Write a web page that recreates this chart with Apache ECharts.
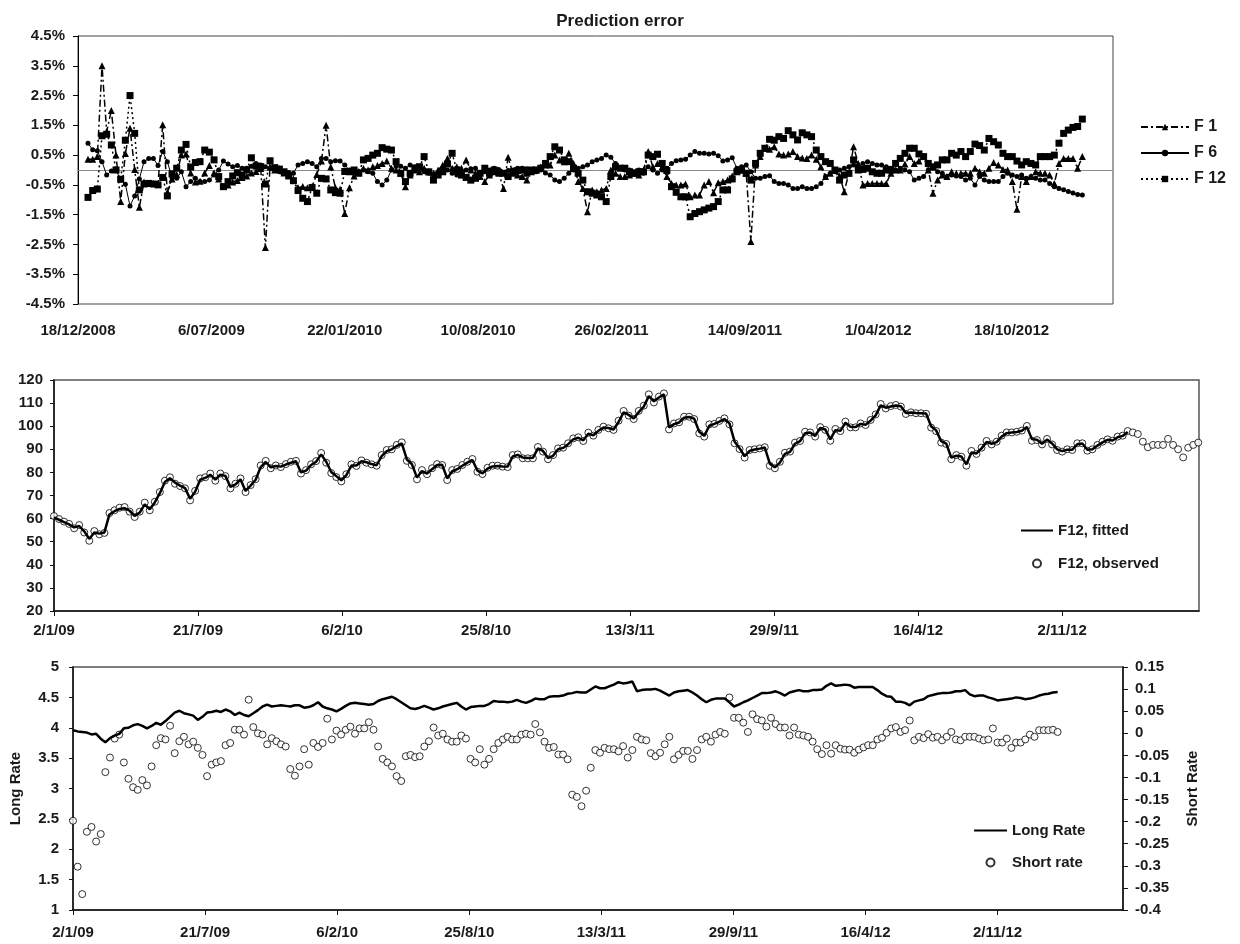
<!DOCTYPE html>
<html>
<head>
<meta charset="utf-8">
<script src="https://cdn.jsdelivr.net/npm/echarts@6/dist/echarts.min.js"></script>
<style>html,body{margin:0;padding:0;background:#fff}#c{width:1240px;height:944px}</style>
</head>
<body>
<div id="c"></div>
<script>
// ---- Data (weekly observations starting 2/1/2009) ----
const firstObsDate = [2009, 0, 2];      // 2/1/09
const errAxisStart = [2008, 11, 18];    // 18/12/2008 (left edge of error panel)
const weekDays = 7;
const tickDays = [0, 200, 400, 600, 800, 1000, 1200, 1400];
const errTickLabels = [-4.5, -3.5, -2.5, -1.5, -0.5, 0.5, 1.5, 2.5, 3.5, 4.5];

// Prediction error (%)
const f1 = [
0.36,0.36,0.45,3.50,1.29,2.00,0.50,-1.06,0.55,1.40,
0.02,-1.25,-0.40,-0.45,-0.45,-0.45,1.52,-0.75,-0.30,-0.15,
0.50,0.54,-0.10,-0.40,-0.38,-0.10,0.15,-0.10,-0.30,-0.55,
-0.50,-0.40,-0.35,-0.25,-0.20,-0.10,-0.05,0.05,-2.60,0.10,
0.00,0.05,-0.10,-0.15,-0.30,-0.60,-0.55,-0.60,-0.55,-0.15,
0.30,1.50,0.10,-0.60,-0.65,-1.46,-0.60,-0.20,-0.05,0.05,
0.00,0.11,0.15,0.22,0.30,0.06,0.00,-0.11,-0.56,-0.17,
0.00,-0.06,0.06,-0.06,-0.11,0.00,0.17,0.39,0.06,0.11,
0.06,0.34,0.00,-0.11,-0.22,-0.39,-0.17,-0.06,-0.11,-0.62,
0.43,-0.11,-0.17,-0.22,-0.34,-0.06,0.00,0.11,0.17,0.17,
0.50,0.34,0.28,0.56,0.22,-0.39,-0.62,-1.40,-0.67,-0.73,
-0.67,-0.62,0.00,-0.11,-0.22,-0.22,-0.17,-0.11,-0.17,0.00,
0.62,0.11,0.22,0.11,-0.22,-0.45,-0.50,-0.50,-0.47,-0.90,
-0.84,-0.84,-0.50,-0.39,-0.76,-0.43,-0.39,-0.34,-0.20,-0.02,
0.00,-0.11,-2.40,0.17,0.45,0.73,0.70,0.78,0.54,0.50,
0.54,0.62,0.45,0.40,0.39,0.50,0.36,0.11,-0.22,-0.11,
0.00,-0.20,-0.73,-0.10,0.78,0.22,-0.50,-0.45,-0.45,-0.45,
-0.45,-0.45,-0.11,0.00,0.00,0.20,0.45,0.22,0.30,0.45,
0.00,-0.78,-0.34,-0.17,-0.22,-0.06,-0.11,-0.11,-0.11,-0.11,
0.06,-0.06,-0.11,0.06,0.25,0.17,0.02,0.00,-0.39,-1.32,
-0.22,-0.39,-0.22,-0.06,-0.11,-0.11,-0.17,-0.45,0.22,0.39,
0.39,0.39,0.06,0.45];

const f6 = [
0.90,0.68,0.65,0.28,-0.17,-0.03,0.00,-0.34,-0.48,-1.21,
-0.87,-0.30,0.28,0.39,0.39,0.15,0.62,0.28,-0.26,-0.28,
-0.06,-0.56,-0.39,-0.28,-0.39,-0.39,-0.34,-0.17,0.00,0.30,
0.20,0.11,0.15,0.06,0.06,0.13,0.22,0.17,0.11,0.06,
0.00,-0.06,-0.08,-0.08,-0.11,0.17,0.22,0.28,0.22,0.11,
0.39,0.39,0.28,0.31,0.30,0.17,0.00,-0.11,-0.06,0.00,
-0.06,-0.11,-0.39,-0.50,-0.34,0.00,0.13,0.13,0.06,0.17,
0.11,0.06,-0.06,-0.11,-0.17,-0.11,0.06,0.00,-0.11,-0.17,
-0.11,0.00,0.04,0.06,-0.11,-0.06,0.00,0.06,0.02,-0.11,
-0.02,0.00,0.06,0.06,0.04,0.00,-0.06,0.00,-0.10,-0.17,
-0.34,-0.39,-0.28,-0.11,0.00,0.06,0.11,0.17,0.28,0.34,
0.39,0.50,0.43,0.22,0.06,0.00,0.00,-0.06,0.00,-0.11,
0.11,0.00,-0.11,0.00,0.06,0.22,0.31,0.34,0.36,0.50,
0.62,0.56,0.56,0.54,0.56,0.48,0.30,0.34,0.41,0.06,
0.11,0.17,-0.06,-0.28,-0.28,-0.22,-0.19,-0.39,-0.45,-0.45,
-0.50,-0.62,-0.62,-0.56,-0.62,-0.62,-0.56,-0.45,-0.22,-0.11,
-0.06,0.00,0.06,0.11,0.17,0.11,0.22,0.28,0.22,0.17,
0.17,0.11,0.06,0.00,0.06,0.00,-0.06,-0.34,-0.28,-0.22,
0.00,0.06,-0.06,-0.11,-0.22,-0.17,-0.20,-0.22,-0.34,-0.28,
-0.50,-0.22,-0.34,-0.39,-0.39,-0.39,-0.22,-0.11,-0.17,-0.22,
-0.17,-0.28,-0.22,-0.28,-0.34,-0.34,-0.45,-0.56,-0.62,-0.66,
-0.72,-0.77,-0.82,-0.84];

const f12 = [
-0.92,-0.69,-0.64,1.15,1.20,0.84,0.00,-0.31,1.00,2.50,
1.23,-0.67,-0.47,-0.45,-0.47,-0.50,-0.25,-0.87,-0.13,0.06,
0.67,0.86,0.10,0.25,0.28,0.67,0.60,0.34,-0.22,-0.56,
-0.39,-0.20,-0.09,-0.17,0.00,0.41,0.13,0.11,-0.47,0.31,
0.08,0.03,-0.06,-0.20,-0.36,-0.69,-0.95,-1.06,-0.59,-0.78,
-0.28,-0.30,-0.67,-0.76,-0.78,-0.05,-0.06,0.00,-0.11,0.34,
0.39,0.50,0.56,0.75,0.70,0.67,0.28,-0.11,-0.39,-0.11,
0.06,0.11,0.45,-0.06,-0.34,-0.17,-0.06,0.20,0.56,0.00,
-0.17,-0.25,-0.34,-0.28,-0.11,0.06,-0.11,0.00,-0.08,-0.11,
-0.22,-0.06,-0.02,0.00,-0.11,0.00,0.00,0.06,0.22,0.45,
0.78,0.67,0.34,0.28,0.06,-0.11,-0.34,-0.73,-0.78,-0.84,
-0.90,-1.06,-0.22,0.11,0.06,0.06,-0.06,-0.11,-0.06,-0.06,
0.50,0.45,0.53,0.22,-0.02,-0.56,-0.75,-0.90,-0.90,-1.57,
-1.46,-1.40,-1.34,-1.28,-1.23,-1.06,-0.67,-0.67,-0.30,-0.06,
0.00,-0.11,-0.34,0.22,0.56,0.73,1.03,1.00,1.12,1.06,
1.32,1.18,1.01,1.25,1.18,1.12,0.67,0.45,0.28,0.22,
0.00,-0.34,-0.17,-0.11,0.34,0.00,0.02,0.06,-0.06,-0.11,
-0.11,0.00,0.00,0.22,0.39,0.56,0.73,0.73,0.54,0.45,
0.22,0.11,0.17,0.34,0.34,0.56,0.50,0.62,0.45,0.62,
0.87,0.82,0.67,1.06,0.95,0.84,0.56,0.45,0.45,0.30,
0.17,0.28,0.22,0.17,0.45,0.45,0.45,0.50,0.90,1.23,
1.34,1.43,1.46,1.71];

// F12 level: observed and fitted
const f12Observed = [
61.1,59.8,58.7,57.7,55.8,57.2,54.0,50.4,54.6,53.2,
53.8,62.4,63.6,64.7,65.0,63.0,60.7,63.0,66.9,63.6,
67.3,71.5,76.4,77.9,75.1,74.1,73.1,67.9,72.0,77.4,
77.9,79.5,76.4,79.5,78.4,73.1,75.1,77.4,71.5,74.5,
77.1,83.0,85.0,81.8,83.0,82.3,83.6,84.6,85.0,79.5,
81.0,83.5,84.9,88.4,84.2,79.7,78.0,76.1,79.2,83.5,
82.8,85.2,84.2,83.5,82.9,87.5,89.7,90.0,91.9,93.0,
85.0,83.2,77.0,81.0,79.2,81.8,83.6,83.2,76.7,81.0,
81.5,83.2,84.6,85.8,80.3,79.3,82.0,82.9,82.9,82.5,
82.3,87.5,87.8,86.1,86.1,86.1,91.0,89.0,85.7,87.5,
90.4,90.7,92.6,94.7,95.2,93.6,97.2,95.9,98.4,99.8,
99.1,98.4,102.4,106.6,104.6,103.1,106.6,108.9,113.8,110.3,
112.8,114.2,98.6,101.2,101.7,104.1,104.1,103.1,96.9,95.5,
100.8,101.0,102.3,103.4,100.8,92.6,90.1,86.4,89.7,90.0,
90.4,90.9,82.9,81.8,84.6,88.5,89.0,92.9,93.6,97.6,
97.3,95.5,99.6,98.4,93.7,98.8,97.9,102.0,99.5,99.5,
101.2,100.5,102.7,105.1,109.6,107.7,108.7,109.2,108.5,105.3,
106.0,105.6,105.6,105.4,99.4,97.9,92.9,92.3,85.7,87.5,
86.8,82.9,89.3,88.0,90.7,93.6,92.1,93.3,95.9,97.3,
97.3,97.6,98.1,100.1,93.7,94.0,92.1,94.5,92.1,89.7,
89.0,90.0,89.7,92.6,92.6,89.4,90.0,91.9,93.3,94.3,
93.7,95.5,95.9,97.9,97.3,96.6,93.3,90.9,91.9,91.9,
91.9,94.5,91.9,90.0,86.5,90.7,91.9,92.9];

const f12Fitted = [
60.5,59.5,58.5,57.5,56.2,56.8,54.5,51.2,54.0,53.5,
54.0,61.8,63.2,64.2,64.5,63.4,61.2,62.6,66.2,64.0,
67.0,71.0,75.8,77.5,75.6,74.3,73.2,68.6,71.6,76.8,
77.6,79.0,76.9,79.0,78.5,73.7,74.8,77.0,72.0,74.3,
76.8,82.3,84.5,82.2,82.8,82.5,83.4,84.2,84.8,80.0,
80.8,83.2,84.6,87.8,84.6,80.2,78.4,76.6,78.8,83.0,
83.0,84.8,84.4,83.6,83.1,87.0,89.2,90.0,91.4,92.6,
85.6,83.6,77.8,80.6,79.5,81.4,83.2,83.3,77.4,80.5,
81.4,82.9,84.2,85.4,80.8,79.6,81.6,82.6,82.8,82.6,
82.5,86.9,87.6,86.4,86.2,86.3,90.4,89.3,86.2,87.2,
90.0,90.6,92.2,94.3,95.0,93.9,96.7,96.1,98.0,99.4,
99.2,98.6,101.8,106.0,104.9,103.4,106.1,108.5,113.0,110.8,
112.4,113.8,99.5,100.9,101.6,103.7,104.0,103.3,97.6,95.8,
100.2,101.0,102.0,103.1,101.2,93.4,90.5,87.0,89.3,89.9,
90.3,90.8,83.8,82.2,84.2,88.0,88.9,92.4,93.5,97.0,
97.3,95.8,99.2,98.6,94.3,98.3,98.0,101.5,99.8,99.6,
101.0,100.6,102.4,104.7,109.0,108.0,108.5,109.0,108.6,105.7,
105.9,105.7,105.6,105.5,100.0,98.2,93.5,92.5,86.4,87.2,
86.9,83.5,88.6,88.2,90.4,93.2,92.4,93.1,95.5,97.0,
97.3,97.5,98.0,99.7,94.4,94.1,92.4,94.2,92.5,90.0,
89.2,89.8,89.8,92.2,92.5,89.8,90.0,91.6,93.0,94.1,
93.8,95.2,95.8,97.5];

// Rates
const longRate = [
3.96,3.94,3.93,3.92,3.89,3.90,3.82,3.76,3.83,3.87,
3.90,3.99,4.00,4.04,4.06,4.03,3.99,4.03,4.08,4.05,
4.11,4.18,4.25,4.28,4.24,4.22,4.20,4.13,4.18,4.25,
4.26,4.28,4.26,4.30,4.27,4.21,4.25,4.21,4.19,4.24,
4.29,4.35,4.38,4.35,4.36,4.37,4.36,4.35,4.37,4.37,
4.33,4.34,4.37,4.42,4.35,4.32,4.30,4.27,4.31,4.36,
4.40,4.41,4.40,4.39,4.38,4.39,4.44,4.47,4.49,4.51,
4.47,4.42,4.37,4.32,4.31,4.33,4.36,4.33,4.30,4.32,
4.35,4.37,4.39,4.41,4.35,4.30,4.34,4.35,4.36,4.36,
4.39,4.44,4.43,4.43,4.42,4.43,4.46,4.43,4.41,4.44,
4.48,4.47,4.47,4.51,4.52,4.52,4.53,4.56,4.57,4.59,
4.58,4.58,4.63,4.68,4.65,4.65,4.68,4.71,4.75,4.73,
4.74,4.76,4.60,4.62,4.63,4.63,4.64,4.61,4.57,4.53,
4.58,4.60,4.61,4.62,4.58,4.53,4.47,4.42,4.46,4.48,
4.48,4.48,4.42,4.35,4.38,4.42,4.45,4.49,4.53,4.57,
4.57,4.58,4.60,4.57,4.53,4.58,4.60,4.62,4.60,4.60,
4.62,4.62,4.63,4.69,4.73,4.69,4.70,4.71,4.70,4.66,
4.67,4.67,4.67,4.67,4.62,4.56,4.52,4.51,4.43,4.43,
4.41,4.37,4.43,4.45,4.47,4.52,4.54,4.56,4.57,4.57,
4.58,4.60,4.60,4.62,4.55,4.52,4.53,4.53,4.50,4.48,
4.45,4.46,4.47,4.48,4.50,4.49,4.47,4.48,4.50,4.53,
4.55,4.56,4.58,4.59];

const shortRate = [
-0.198,-0.302,-0.364,-0.223,-0.212,-0.245,-0.228,-0.088,-0.055,-0.012,
-0.003,-0.066,-0.103,-0.122,-0.128,-0.106,-0.118,-0.075,-0.027,-0.011,
-0.014,0.017,-0.045,-0.018,-0.008,-0.025,-0.019,-0.033,-0.049,-0.097,
-0.071,-0.066,-0.063,-0.027,-0.022,0.008,0.008,-0.003,0.076,0.014,
0.000,-0.003,-0.025,-0.011,-0.018,-0.025,-0.030,-0.081,-0.096,-0.075,
-0.036,-0.071,-0.022,-0.031,-0.022,0.033,-0.014,0.006,-0.003,0.008,
0.015,-0.001,0.011,0.011,0.025,0.008,-0.030,-0.058,-0.066,-0.075,
-0.097,-0.108,-0.052,-0.049,-0.054,-0.052,-0.030,-0.018,0.013,-0.005,
-0.001,-0.014,-0.019,-0.019,-0.005,-0.012,-0.058,-0.066,-0.036,-0.071,
-0.058,-0.036,-0.022,-0.014,-0.008,-0.014,-0.014,-0.003,-0.001,-0.003,
0.021,0.002,-0.019,-0.033,-0.031,-0.048,-0.048,-0.059,-0.139,-0.144,
-0.165,-0.130,-0.078,-0.038,-0.044,-0.033,-0.036,-0.036,-0.041,-0.029,
-0.055,-0.038,-0.008,-0.014,-0.016,-0.045,-0.052,-0.044,-0.025,-0.008,
-0.059,-0.049,-0.040,-0.040,-0.058,-0.038,-0.014,-0.008,-0.019,-0.003,
0.003,-0.001,0.081,0.035,0.035,0.024,0.003,0.043,0.032,0.029,
0.015,0.035,0.021,0.013,0.013,-0.005,0.013,-0.003,-0.005,-0.008,
-0.019,-0.036,-0.047,-0.027,-0.046,-0.027,-0.035,-0.037,-0.037,-0.044,
-0.037,-0.032,-0.027,-0.027,-0.014,-0.010,0.001,0.011,0.014,0.003,
0.007,0.029,-0.016,-0.008,-0.011,-0.002,-0.010,-0.008,-0.016,-0.008,
0.003,-0.014,-0.016,-0.008,-0.008,-0.008,-0.012,-0.016,-0.014,0.011,
-0.021,-0.021,-0.012,-0.033,-0.021,-0.021,-0.014,-0.003,-0.008,0.007,
0.007,0.007,0.008,0.003];

// ---- helpers ----
const DAY = 86400000;
const base2 = Date.UTC(firstObsDate[0], firstObsDate[1], firstObsDate[2]);
const base1 = Date.UTC(errAxisStart[0], errAxisStart[1], errAxisStart[2]);
const errOffset = Math.round((base2 - base1) / DAY);
const pad2 = n => (n < 10 ? '0' : '') + n;
const fmtLong = v => { const d = new Date(base1 + v * DAY); return d.getUTCDate() + '/' + pad2(d.getUTCMonth() + 1) + '/' + d.getUTCFullYear(); };
const fmtShort = v => { const d = new Date(base2 + v * DAY); return d.getUTCDate() + '/' + (d.getUTCMonth() + 1) + '/' + String(d.getUTCFullYear()).slice(2); };
const toErr = arr => arr.map((v, i) => [errOffset + i * weekDays, v]);
const toObs = arr => arr.map((v, i) => [i * weekDays, v]);

const FONT = 'Liberation Sans, Arial, sans-serif';
const INK = '#1a1a1a';
const lab = (extra) => Object.assign({ fontFamily: FONT, fontWeight: 'bold', fontSize: 15, color: INK }, extra || {});
const noMarker = { opacity: 0 };

const chart = echarts.init(document.getElementById('c'), null, { renderer: 'canvas' });

const option = {
  animation: false,
  backgroundColor: '#fff',
  title: {
    text: 'Prediction error', left: 'center', top: 8,
    textStyle: { fontFamily: FONT, fontWeight: 'bold', fontSize: 17, color: INK }
  },
  grid: [
    { left: 78, top: 36, width: 1035, height: 268, show: true, borderColor: '#444', borderWidth: 1, containLabel: false },
    { left: 54, top: 380, width: 1145, height: 231, show: true, borderColor: '#555', borderWidth: 1.5, containLabel: false },
    { left: 67, top: 667, width: 1056, height: 243, show: true, borderColor: '#555', borderWidth: 1.5, containLabel: false }
  ],
  legend: [
    {
      data: ['F 1', 'F 6', 'F 12'], orient: 'vertical', left: 1135, top: 114,
      itemWidth: 48, itemHeight: 8, itemGap: 10, textStyle: lab({ fontSize: 16 }), selectedMode: false
    },
    {
      data: [{ name: 'F12, fitted', itemStyle: noMarker }, 'F12, observed'], orient: 'vertical', left: 1015, top: 518,
      itemWidth: 32, itemHeight: 8, itemGap: 18, textStyle: lab(), selectedMode: false
    },
    {
      data: [{ name: 'Long Rate', itemStyle: noMarker }, 'Short rate'], orient: 'vertical', left: 968, top: 818,
      itemWidth: 33, itemHeight: 8, itemGap: 17, textStyle: lab(), selectedMode: false
    }
  ],
  xAxis: [
    {
      gridIndex: 0, type: 'value', min: 0, max: 1552,
      axisLine: { show: false, onZero: false }, axisTick: { show: false }, splitLine: { show: false },
      axisLabel: Object.assign(lab({ margin: 19 }), { customValues: tickDays, formatter: fmtLong })
    },
    {
      gridIndex: 1, type: 'value', min: 0, max: 1590,
      axisLine: { show: true, onZero: false, lineStyle: { color: '#111', width: 1.5 } },
      axisTick: { show: true, inside: false, length: 5, customValues: tickDays, lineStyle: { color: '#111' } },
      splitLine: { show: false },
      axisLabel: Object.assign(lab({ margin: 12 }), { customValues: tickDays, formatter: fmtShort })
    },
    {
      gridIndex: 2, type: 'value', min: 0, max: 1590,
      axisLine: { show: true, onZero: false, lineStyle: { color: '#111', width: 1.5 } },
      axisTick: { show: true, inside: false, length: 5, customValues: tickDays, lineStyle: { color: '#111' } },
      splitLine: { show: false },
      axisLabel: Object.assign(lab({ margin: 15 }), { customValues: tickDays, formatter: fmtShort })
    }
  ],
  yAxis: [
    {
      gridIndex: 0, type: 'value', min: -4.5, max: 4.5,
      axisLine: { show: true, onZero: false, lineStyle: { color: '#000', width: 1 } },
      axisTick: { show: true, length: 5, customValues: errTickLabels, lineStyle: { color: '#000' } },
      splitLine: { show: false },
      axisLabel: Object.assign(lab({ margin: 13 }), { customValues: errTickLabels, formatter: v => v.toFixed(1) + '%' })
    },
    {
      gridIndex: 1, type: 'value', min: 20, max: 120, interval: 10,
      axisLine: { show: true, onZero: false, lineStyle: { color: '#111', width: 1.5 } },
      axisTick: { show: true, length: 4, lineStyle: { color: '#111' } },
      splitLine: { show: false },
      axisLabel: lab({ margin: 11 })
    },
    {
      gridIndex: 2, type: 'value', min: 1, max: 5, interval: 0.5, position: 'left',
      name: 'Long Rate', nameLocation: 'middle', nameRotate: 90, nameGap: 50,
      nameTextStyle: lab(),
      axisLine: { show: true, onZero: false, lineStyle: { color: '#111', width: 1.5 } },
      axisTick: { show: true, length: 4, lineStyle: { color: '#111' } },
      splitLine: { show: false },
      axisLabel: lab({ margin: 14 })
    },
    {
      gridIndex: 2, type: 'value', min: -0.4, max: 0.15, interval: 0.05, position: 'right',
      name: 'Short Rate', nameLocation: 'middle', nameRotate: 90, nameGap: 62,
      nameTextStyle: lab(),
      axisLine: { show: true, onZero: false, lineStyle: { color: '#111', width: 1.5 } },
      axisTick: { show: true, length: 5, lineStyle: { color: '#111' } },
      splitLine: { show: false },
      axisLabel: lab({ margin: 12, formatter: v => String(Math.round(v * 100) / 100) })
    }
  ],
  series: [
    {
      name: 'F 1', type: 'line', xAxisIndex: 0, yAxisIndex: 0, data: toErr(f1),
      symbol: 'triangle', symbolSize: 7, showAllSymbol: true, z: 3,
      lineStyle: { color: '#000', width: 1.5, type: [7, 3, 2, 3] },
      itemStyle: { color: '#000' },
      markLine: {
        silent: true, symbol: ['none', 'none'], label: { show: false }, z: 1,
        lineStyle: { color: '#8a8a8a', width: 1, type: 'solid' },
        data: [{ yAxis: 0 }]
      }
    },
    {
      name: 'F 6', type: 'line', xAxisIndex: 0, yAxisIndex: 0, data: toErr(f6),
      symbol: 'circle', symbolSize: 5, showAllSymbol: true, z: 4,
      lineStyle: { color: '#000', width: 1, type: 'solid' },
      itemStyle: { color: '#000' }
    },
    {
      name: 'F 12', type: 'line', xAxisIndex: 0, yAxisIndex: 0, data: toErr(f12),
      symbol: 'rect', symbolSize: 7, showAllSymbol: true, z: 5,
      lineStyle: { color: '#000', width: 1.5, type: [2, 3] },
      itemStyle: { color: '#000' }
    },
    {
      name: 'F12, observed', type: 'scatter', xAxisIndex: 1, yAxisIndex: 1, data: toObs(f12Observed),
      symbol: 'circle', symbolSize: 7, z: 2,
      itemStyle: { color: '#fff', borderColor: '#000', borderWidth: 1 }
    },
    {
      name: 'F12, fitted', type: 'line', xAxisIndex: 1, yAxisIndex: 1, data: toObs(f12Fitted),
      symbol: 'none', z: 3,
      lineStyle: { color: '#000', width: 2.5 }, itemStyle: { color: '#000' }
    },
    {
      name: 'Long Rate', type: 'line', xAxisIndex: 2, yAxisIndex: 2, data: toObs(longRate),
      symbol: 'none', z: 3,
      lineStyle: { color: '#000', width: 2.5 }, itemStyle: { color: '#000' }
    },
    {
      name: 'Short rate', type: 'scatter', xAxisIndex: 2, yAxisIndex: 3, data: toObs(shortRate),
      symbol: 'circle', symbolSize: 7, z: 2,
      itemStyle: { color: '#fff', borderColor: '#000', borderWidth: 1 }
    }
  ]
};
chart.setOption(option);
</script>
</body>
</html>
